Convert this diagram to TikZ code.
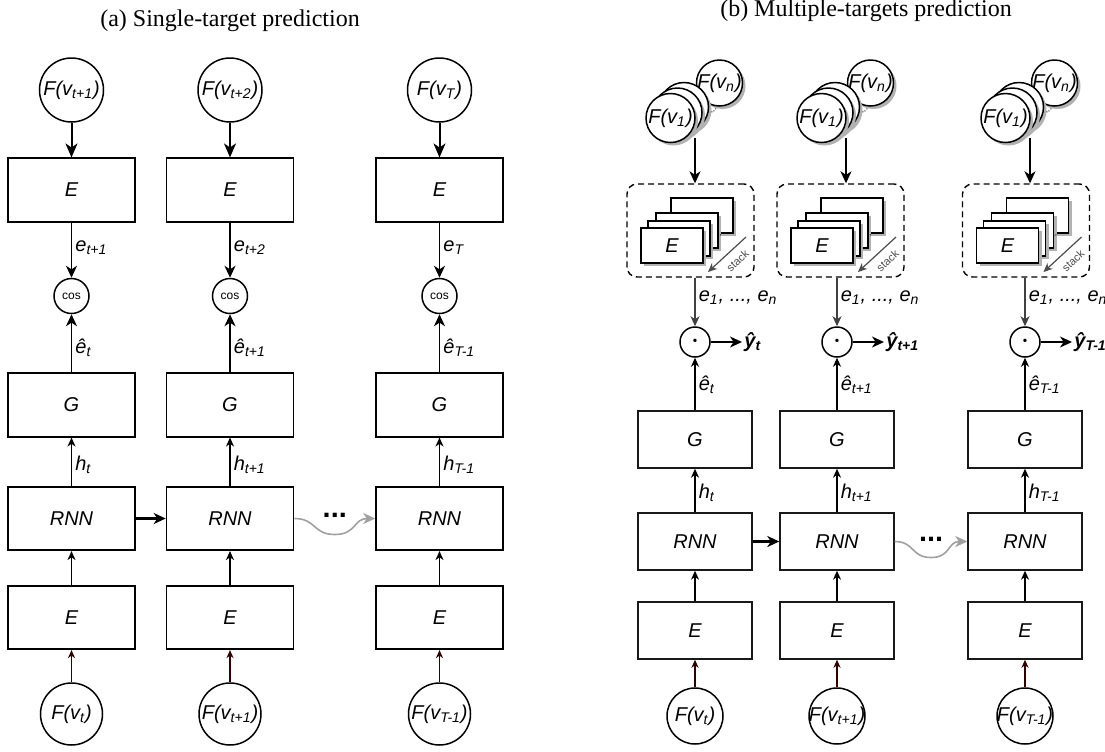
\documentclass[tikz,border=0pt]{standalone}
\usepackage{fontspec}
\setmainfont{Liberation Serif}
\setsansfont{Liberation Sans}
\usetikzlibrary{arrows.meta,shadows,calc}

\definecolor{darkbrown}{RGB}{51,0,0}
\definecolor{curvegray}{RGB}{160,160,160}

\newcommand{\fv}[1]{\makebox[0pt]{F(v\textsubscript{#1})}}

\tikzset{
  boxa/.style={draw,line width=0.8pt,minimum width=63.5pt,minimum height=31.75pt,font=\sffamily\itshape},
  boxb/.style={draw=black!90,line width=0.7pt,minimum width=57pt,minimum height=28.5pt,font=\sffamily\itshape},
  fcirc/.style={draw,circle,line width=0.75pt,inner sep=0pt,font=\sffamily\itshape},
  softshadow/.style={drop shadow={shadow xshift=1.5pt,shadow yshift=-1.5pt,fill=black!30,opacity=1}},
  sbox/.style={draw,fill=white,line width=0.7pt,minimum width=31pt,minimum height=17.5pt,softshadow,font=\sffamily\itshape},
  lbl/.style={right,inner sep=1.5pt,text=black,font=\sffamily\itshape},
  bigarrow/.style={line width=1pt,-{Stealth[length=7pt,width=6pt,inset=2pt]}},
  midarrow/.style={line width=0.9pt,-{Stealth[length=6pt,width=5.5pt,inset=1.8pt]}},
  smallarrow/.style={line width=0.75pt,-{Stealth[length=4.5pt,width=4pt,inset=1.4pt]}},
  brownarrow/.style={darkbrown,line width=0.7pt,-{Stealth[length=4pt,width=3.5pt,inset=1.2pt]}},
  grayarrow/.style={curvegray,line width=0.8pt,-{Stealth[length=6pt,width=5.5pt,inset=1.8pt]}},
  rnnarrow/.style={line width=1.1pt,-{Stealth[length=6pt,width=5.5pt,inset=1.8pt]}}
}

\begin{document}
\begin{tikzpicture}[x=0.5pt,y=-0.5pt]
\useasboundingbox (0,0) rectangle (1105,751);

\node (TitleA) at (230,21) {\large (a) Single-target prediction};
\node (TitleB) at (866,11) {\large (b) Multiple-targets prediction};

% (a) one column per time step
\foreach \i/\x/\nx/\s in {1/71.5/t+1/t, 2/230/t+2/t+1, 3/439.5/T/T-1}{
  \node (Ftop\i) at (\x,90) [fcirc,minimum size=32pt] {\fv{\nx}};
  \node (Etop\i) at (\x,190) [boxa] {E};
  \node (Cos\i) at (\x,296) [fcirc,minimum size=17.5pt,font=\sffamily\fontsize{6}{6}\selectfont] {cos};
  \node (Ga\i) at (\x,405) [boxa] {G};
  \node (Ra\i) at (\x,518.5) [boxa] {RNN};
  \node (Ebot\i) at (\x,617.5) [boxa] {E};
  \node (Fbot\i) at (\x,714) [fcirc,minimum size=31pt] {\fv{\s}};
  \draw [bigarrow] (Ftop\i) -- (Etop\i);
  \draw [midarrow] (Etop\i) -- node [lbl,pos=0.45] {e\textsubscript{\nx}} (Cos\i);
  \draw [midarrow] (Ga\i) -- node [lbl,pos=0.42] {\^e\textsubscript{\s}} (Cos\i);
  \draw [smallarrow] (Ra\i) -- node [lbl,pos=0.44] {h\textsubscript{\s}} (Ga\i);
  \draw [smallarrow] (Ebot\i) -- (Ra\i);
  \draw [brownarrow] (Fbot\i) -- (Ebot\i);
}
\draw [rnnarrow] (Ra1) -- (Ra2);
\coordinate (DipA) at ($(Ra2.east)!0.5!(Ra3.west)+(0,16)$);
\draw [grayarrow] (Ra2.east) .. controls +(22,0) and +(-22,0) .. (DipA)
  .. controls +(22,0) and +(-22,0) .. (Ra3.west);
\node (DotsA) at ($(DipA)+(0,-19)$) {\sffamily\bfseries\Large ...};

% (b) stacked targets per time step
\foreach \i/\x/\xs/\xc/\s in {1/695/690.5/695/t, 2/837/840.5/846/t+1, 3/1025/1026/1030/T-1}{
  \node (Fn\i) at (\xc+24.5,83) [fcirc,fill=white,softshadow,minimum size=23pt] {\fv{n}};
  \node (Fc\i) at (\xc-11,107) [fcirc,fill=white,softshadow,minimum size=24.5pt] {};
  \node (Fb\i) at (\xc-17.5,112.5) [fcirc,fill=white,softshadow,minimum size=24.5pt] {};
  \node (Fa\i) at (\xc-24.5,118) [fcirc,fill=white,softshadow,minimum size=24.5pt] {\fv{1}};
  \node (FDots\i) at (\xc+19,111) [rotate=40,inner sep=0pt,font=\tiny] {...};
  \coordinate (Cin\i) at (\xc,138);
  \node (Stack\i) at (\xs,230.5) [draw,line width=0.7pt,dash pattern=on 3pt off 2pt,
    rounded corners=5pt,minimum width=63.5pt,minimum height=46.5pt] {};
  \node (Sd\i) at (\xs+11.5,215.5) [sbox] {};
  \node (Sc\i) at (\xs-3.5,230.5) [sbox] {};
  \node (Sb\i) at (\xs-11.5,238.5) [sbox] {};
  \node (Sa\i) at (\xs-18.5,245.5) [sbox] {E};
  \node (SDots\i) at (\xs+30,235) [rotate=40,inner sep=0pt,font=\tiny] {...};
  \coordinate (SkA\i) at (\xs+55.5,237);
  \coordinate (SkB\i) at (\xs+17.5,272);
  \draw [black!70,line width=0.6pt,-{Stealth[length=4.5pt,width=4pt,inset=1.4pt]}] (SkA\i) -- (SkB\i);
  \node (SkL\i) at (\xs+47,261) [rotate=43,inner sep=0pt,text=black!70,font=\sffamily\fontsize{5.5}{6}\selectfont] {stack};
  \node (Dot\i) at (\x,342) [fcirc,minimum size=15pt,font=\fontsize{7}{7}\selectfont] {\textbullet};
  \node (Yh\i) at (\x+47,342) [anchor=west,inner sep=1pt,font=\sffamily\bfseries\itshape] {\^y\textsubscript{\s}};
  \node (Gb\i) at (\x,439.5) [boxb] {G};
  \node (Rb\i) at (\x,541.5) [boxb] {RNN};
  \node (Ein\i) at (\x,630.5) [boxb] {E};
  \node (Fin\i) at (\x,716) [fcirc,minimum size=28pt] {\fv{\s}};
  \draw [midarrow,line width=0.75pt] (Cin\i) -- (Cin\i |- Stack\i.north);
  \draw [black!75,line width=0.75pt,-{Stealth[length=5pt,width=4.5pt,inset=1.5pt]}]
    (Stack\i.south -| Dot\i) -- node [lbl,pos=0.4] {e\textsubscript{1}, ..., e\textsubscript{n}} (Dot\i);
  \draw [midarrow,line width=0.75pt] (Dot\i) -- (Yh\i);
  \draw [smallarrow] (Gb\i) -- node [lbl,pos=0.48] {\^e\textsubscript{\s}} (Dot\i);
  \draw [smallarrow] (Rb\i) -- node [lbl,pos=0.44] {h\textsubscript{\s}} (Gb\i);
  \draw [smallarrow] (Ein\i) -- (Rb\i);
  \draw [brownarrow] (Fin\i) -- (Ein\i);
}
\draw [rnnarrow] (Rb1) -- (Rb2);
\coordinate (DipB) at ($(Rb2.east)!0.5!(Rb3.west)+(0,16)$);
\draw [grayarrow] (Rb2.east) .. controls +(20,0) and +(-20,0) .. (DipB)
  .. controls +(20,0) and +(-20,0) .. (Rb3.west);
\node (DotsB) at ($(DipB)+(0,-18)$) {\sffamily\bfseries\Large ...};

\end{tikzpicture}
\end{document}
